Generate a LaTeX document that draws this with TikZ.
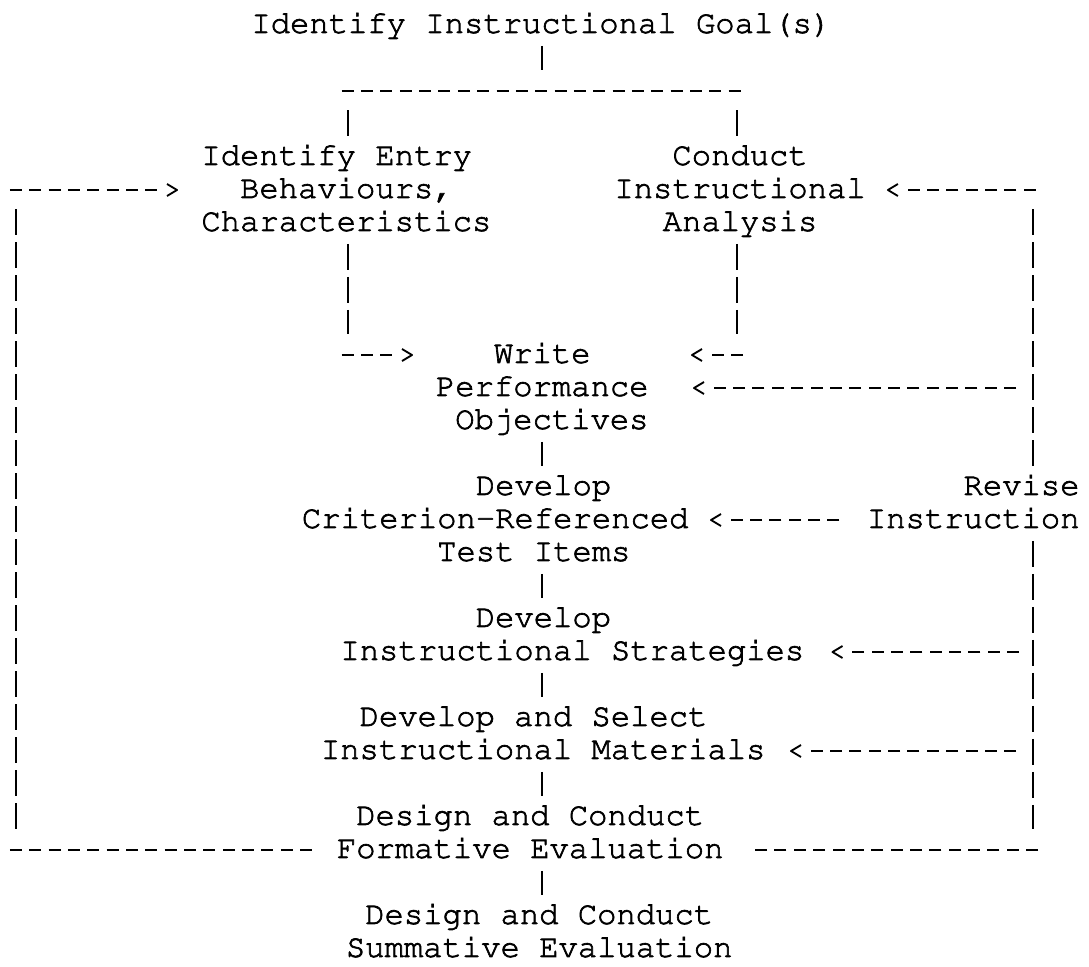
\documentclass[tikz,border=0pt]{standalone}
\usepackage[T1]{fontenc}
\usepackage{tikz}
\usetikzlibrary{calc}

% typewriter face of the chart, one character = 19.35 units
\newcommand{\crr}{\fontfamily{pcr}\fontsize{24.16}{24.75}\selectfont
  \special{pdf:literal direct 2 Tr 0.5 w}}
\newcommand{\indentby}[1]{\hspace*{#1\fontcharwd\font`x}}

\begin{document}
\begin{tikzpicture}[x=0.75pt, y=-0.75pt, line width=1.4pt,
  stage/.style={font=\crr, inner sep=0pt, anchor=north west},
  hdash/.style={dash pattern=on 9pt off 5.5125pt},
  vbar/.style={dash pattern=on 19.5pt off 5.25pt},
  link/.style={vbar, shorten <=1.6pt, shorten >=3.7pt},
  tipr/.pic={\draw[line join=round] (-10,-6) -- (0,0) -- (-10,6);},
  tipl/.pic={\draw[line join=round] (10,-6) -- (0,0) -- (10,6);}]
  \fill[white] (0,0) rectangle (1089,961);

  % Stages
  \node[stage] (goal) at (250.5,8.9) {\strut Identify Instructional Goal(s)};
  \node[stage, align=left] (entry) at (200.5,140.9)
    {\strut Identify Entry\\\indentby{2}Behaviours,\\\strut Characteristics};
  \node[stage, align=center] (analysis) at (613.5,140.9)
    {\strut Conduct\\Instructional\\\strut Analysis};
  \node[stage, align=left] (objectives) at (435,338.9)
    {\strut\indentby{3}Write\\Performance\\\strut\indentby{1}Objectives};
  \node[stage, align=left] (tests) at (301,470.9)
    {\strut\indentby{9}Develop\\Criterion-Referenced\\\strut\indentby{7}Test Items};
  \node[stage, align=right] (revise) at (866,470.9) {\strut Revise\\\strut Instruction};
  \node[stage, align=left] (strategies) at (339.5,602.9)
    {\strut\indentby{7}Develop\\\strut Instructional Strategies};
  \node[stage, align=left] (materials) at (320,701.9)
    {\strut\indentby{2}Develop and Select\\\strut Instructional Materials};
  \node[stage, align=center] (formative) at (336,800.9)
    {\strut Design and Conduct\\\strut Formative Evaluation};
  \node[stage, align=center] (summative) at (345,899.9)
    {\strut Design and Conduct\\\strut Summative Evaluation};

  % Turning points
  \coordinate (spine) at (542,91);
  \coordinate (entry-turn) at (347.7,355);
  \coordinate (analysis-turn) at (737,355);
  \coordinate (entry-in) at (177,190);
  \coordinate (analysis-in) at (887.9,190);
  \coordinate (write-in-l) at (412,355);
  \coordinate (write-in-r) at (692,355);
  \coordinate (perf-in) at (694,388);
  \coordinate (tests-in) at (711,520);
  \coordinate (strat-in) at (832.5,652);
  \coordinate (mat-in) at (791,751);
  \coordinate (loop-tl) at (15.9,190);
  \coordinate (loop-bl) at (15.9,850);
  \coordinate (loop-tr) at (1033,190);
  \coordinate (loop-br) at (1033,850);

  % Goal splits in two
  \draw[vbar, shorten <=1.6pt, shorten >=15.75pt] (spine |- goal.south) -- (spine);
  \draw[hdash] ($(entry-turn |- spine)+(-6,0)$) -- ($(analysis-turn |- spine)+(3.7,0)$);
  \draw[vbar, shorten <=14.25pt, shorten >=3.7pt] (entry-turn |- spine) -- (entry-turn |- entry.north);
  \draw[vbar, shorten <=14.25pt, shorten >=3.7pt] (analysis-turn |- spine) -- (analysis-turn |- analysis.north);

  % Both meet at the objectives
  \draw[vbar, shorten <=1.6pt, shorten >=15.75pt] (entry-turn |- entry.south) -- (entry-turn);
  \draw[vbar, shorten <=1.6pt, shorten >=15.75pt] (analysis-turn |- analysis.south) -- (analysis-turn);
  \draw[hdash, shorten >=12pt] ($(entry-turn)+(-6,0)$) -- (write-in-l);
  \pic at (write-in-l) {tipr};
  \draw[hdash, shorten >=12pt] ($(analysis-turn)+(6,0)$) -- (write-in-r);
  \pic at (write-in-r) {tipl};

  % Main line
  \draw[link] (spine |- objectives.south) -- (spine |- tests.north);
  \draw[link] (spine |- tests.south) -- (spine |- strategies.north);
  \draw[link] (spine |- strategies.south) -- (spine |- materials.north);
  \draw[link] (spine |- materials.south) -- (spine |- formative.north);
  \draw[link] (spine |- formative.south) -- (spine |- summative.north);

  % Left loop
  \draw[hdash, shorten >=15pt] ($(loop-bl)+(-6,0)$) -- (formative.west |- loop-bl);
  \draw[vbar, shorten <=14.25pt, shorten >=15.75pt] (loop-tl) -- (loop-bl);
  \draw[hdash, shorten >=12pt] ($(loop-tl)+(-6,0)$) -- (entry-in);
  \pic at (entry-in) {tipr};

  % Right loop, through the revision
  \draw[hdash, shorten >=21pt] ($(loop-br)+(5,0)$) -- (formative.east |- loop-br);
  \draw[vbar, shorten <=1.6pt, shorten >=15.75pt] (loop-br |- revise.south) -- (loop-br);
  \draw[vbar, shorten <=14.25pt, shorten >=3.7pt] (loop-tr) -- (loop-tr |- revise.north);
  \draw[hdash, shorten >=12pt] ($(loop-tr)+(2.7,0)$) -- (analysis-in);
  \pic at (analysis-in) {tipl};
  \draw[hdash, shorten >=12pt] ($(loop-tr |- perf-in)+(-17,0)$) -- (perf-in);
  \pic at (perf-in) {tipl};
  \draw[hdash, shorten <=19.9pt, shorten >=12pt] (revise.west |- tests-in) -- (tests-in);
  \pic at (tests-in) {tipl};
  \draw[hdash, shorten >=12pt] ($(loop-tr |- strat-in)+(-14,0)$) -- (strat-in);
  \pic at (strat-in) {tipl};
  \draw[hdash, shorten >=12pt] ($(loop-tr |- mat-in)+(-16.8,0)$) -- (mat-in);
  \pic at (mat-in) {tipl};
\end{tikzpicture}
\end{document}
